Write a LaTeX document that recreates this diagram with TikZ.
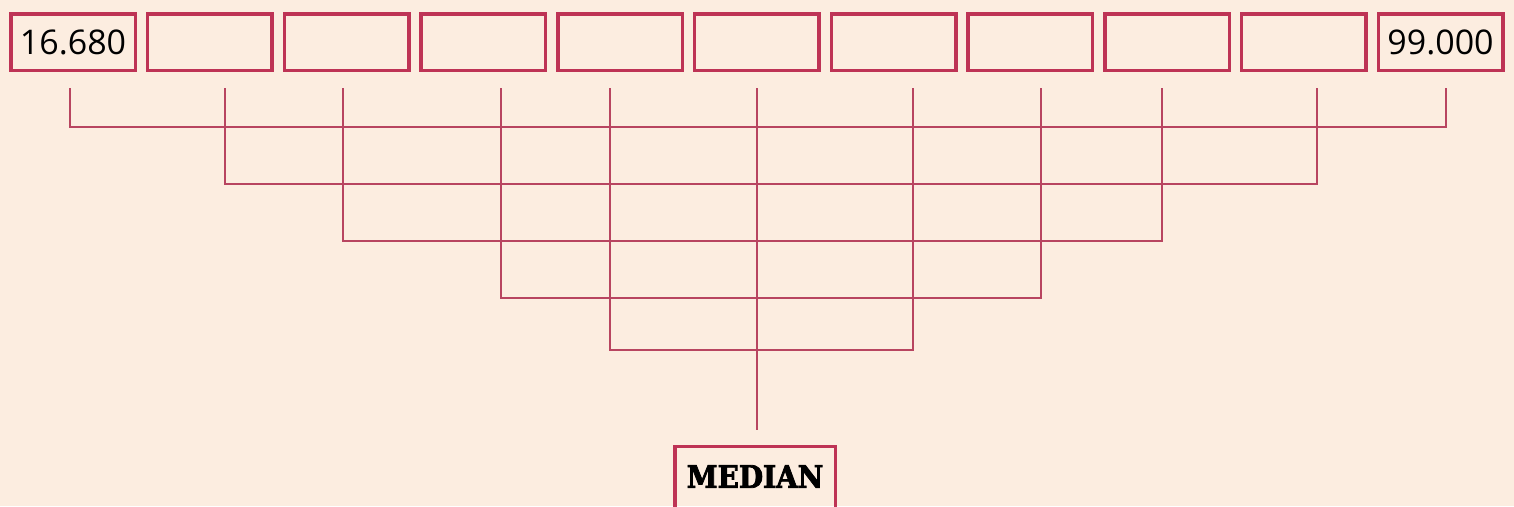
\documentclass[tikz,border=0pt]{standalone}
\usepackage{fontspec}
\setmainfont{Open Sans}
\newfontfamily\slabfont[BoldFeatures={FakeBold=2.5}]{DejaVu Serif Condensed}
\usetikzlibrary{positioning}
\definecolor{paper}{HTML}{FCEDE0}
\definecolor{crimson}{HTML}{BE3355}
\definecolor{wire}{HTML}{B84560}
\tikzset{
  cell/.style={rectangle, draw=crimson, line width=3.5pt, outer sep=0pt, minimum width=124.5pt, minimum height=56.5pt, inner sep=0pt, font=\fontsize{34}{36}\selectfont},
  result/.style={cell, minimum width=160.5pt, minimum height=68pt, text depth=8pt, font=\slabfont\bfseries\fontsize{31}{33}\selectfont}
  ,link/.style={draw=wire, line width=2.2pt}
}

\begin{document}
\begin{tikzpicture}[x=1pt, y=-1pt, node distance=12.25pt]
\clip (0,0) rectangle (1514,506);
\fill[paper] (0,0) rectangle (1514,506);
% sorted values
\node[cell] (c1) at (73,42) {16.680};
\node[cell, right=of c1] (c2) {};
\node[cell, right=of c2] (c3) {};
\node[cell, right=of c3] (c4) {};
\node[cell, right=of c4] (c5) {};
\node[cell, right=of c5] (c6) {};
\node[cell, right=of c6] (c7) {};
\node[cell, right=of c7] (c8) {};
\node[cell, right=of c8] (c9) {};
\node[cell, right=of c9] (c10) {};
\node[cell, right=of c10] (c11) {99.000};

% taps under the cells
\coordinate (t1) at (70,88);   \coordinate (t11) at (1446,88);
\coordinate (t2) at (225,88);  \coordinate (t10) at (1317,88);
\coordinate (t3) at (343,88);  \coordinate (t9) at (1162,88);
\coordinate (t4) at (501,88);  \coordinate (t8) at (1041,88);
\coordinate (t5) at (610,88);  \coordinate (t7) at (913,88);
\coordinate (t6) at (757,88);  \coordinate (stem) at (757,430);

% pairing levels
\coordinate (l1) at (0,127);
\coordinate (l2) at (0,184);
\coordinate (l3) at (0,241);
\coordinate (l4) at (0,298);
\coordinate (l5) at (0,350);

\draw[link] (t1) -- (t1 |- l1) -- (t11 |- l1) -- (t11);
\draw[link] (t2) -- (t2 |- l2) -- (t10 |- l2) -- (t10);
\draw[link] (t3) -- (t3 |- l3) -- (t9 |- l3) -- (t9);
\draw[link] (t4) -- (t4 |- l4) -- (t8 |- l4) -- (t8);
\draw[link] (t5) -- (t5 |- l5) -- (t7 |- l5) -- (t7);
\draw[link] (t6) -- (stem);

\node[result, anchor=north] (median) at (755,446.5) {MEDIAN};
\end{tikzpicture}
\end{document}
